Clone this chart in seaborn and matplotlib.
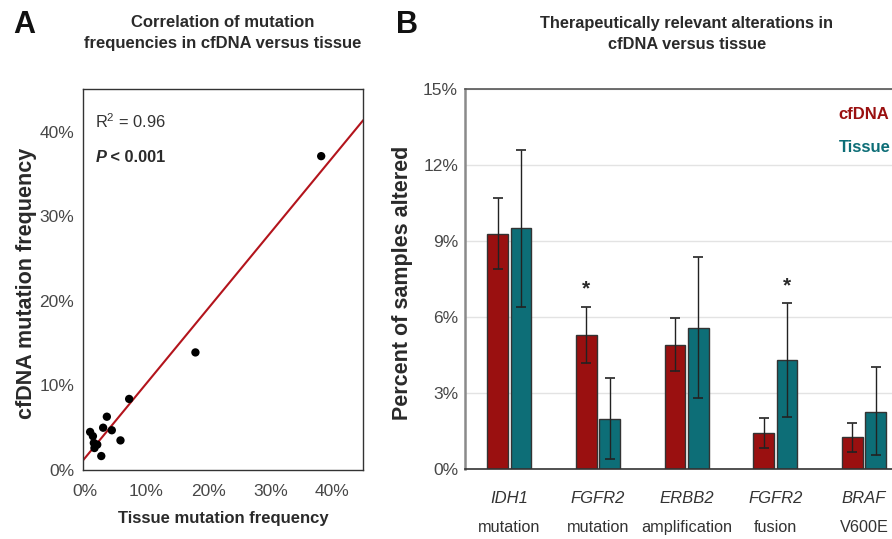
import matplotlib
matplotlib.use("Agg")
import matplotlib.pyplot as plt
import matplotlib.transforms as mtransforms
import seaborn as sns
import numpy as np
import pandas as pd

# ---------------- data ----------------
# Panel A: mutation frequencies (%)
tissue_freq = [38.2, 17.9, 7.2, 3.6, 3.0, 4.4, 5.8, 0.9, 1.35, 1.5, 2.05, 1.6, 2.7]
cfdna_freq = [37.1, 13.9, 8.4, 6.3, 5.0, 4.7, 3.5, 4.5, 4.0, 3.2, 3.0, 2.6, 1.65]
a_ticks = [0, 10, 20, 30, 40]

# Panel B: percent of samples altered
genes = ["IDH1", "FGFR2", "ERBB2", "FGFR2", "BRAF"]
alteration = ["mutation", "mutation", "amplification", "fusion", "V600E"]
cfdna_pct = [9.30, 5.30, 4.91, 1.43, 1.26]
cfdna_lo = [7.92, 4.21, 3.88, 0.84, 0.70]
cfdna_hi = [10.70, 6.42, 5.96, 2.04, 1.82]
tissue_pct = [9.51, 1.99, 5.58, 4.33, 2.27]
tissue_lo = [6.42, 0.39, 2.80, 2.05, 0.56]
tissue_hi = [12.60, 3.62, 8.38, 6.55, 4.05]
cfdna_sig = [False, True, False, False, False]
tissue_sig = [False, False, False, True, False]
b_ticks = [0, 3, 6, 9, 12, 15]

RED = "#9a1010"
TEAL = "#0d6e77"
LINE_RED = "#b3141c"
TXT = "#2a2a2a"
TICK = "#474747"

sns.set_style("white")
plt.rcParams["font.family"] = ["Liberation Sans", "DejaVu Sans"]
plt.rcParams["mathtext.fontset"] = "custom"
plt.rcParams["mathtext.rm"] = "Liberation Sans"

fig = plt.figure(figsize=(8.92, 5.39), dpi=100)

# ---------------- Panel A ----------------
axA = fig.add_axes([0.0927, 0.128, 0.3146, 0.7063])
axA.set_xlim(-0.3, 45)
axA.set_ylim(0, 45)
dfA = pd.DataFrame({"tissue": tissue_freq, "cfdna": cfdna_freq})
sns.regplot(data=dfA, x="tissue", y="cfdna", ax=axA, ci=None, truncate=False,
            scatter_kws=dict(s=36, color="black", edgecolor="none", alpha=1, zorder=3),
            line_kws=dict(color=LINE_RED, lw=1.5, zorder=2))
axA.set_xlim(-0.3, 45)
axA.set_ylim(0, 45)
axA.set_xticks(a_ticks)
axA.set_yticks(a_ticks)
axA.set_xticklabels([f"{t}%" for t in a_ticks])
axA.set_yticklabels([f"{t}%" for t in a_ticks])
axA.tick_params(axis="both", length=0, labelsize=12.5, labelcolor=TICK)
axA.tick_params(axis="x", pad=10)
axA.tick_params(axis="y", pad=6)
for s in axA.spines.values():
    s.set_color("#333333")
    s.set_linewidth(1.0)
    s.set_visible(True)
axA.set_xlabel("Tissue mutation frequency", fontsize=12, fontweight="bold", color=TXT)
axA.xaxis.set_label_coords(0.5, -0.108)
axA.set_ylabel("cfDNA mutation frequency", fontsize=15.5, fontweight="bold", color=TXT)
axA.yaxis.set_label_coords(-0.163, 0.49)
axA.text(0.045, 0.915, r"R$^2$ = 0.96", transform=axA.transAxes, fontsize=11.8,
         color="#333333", va="center")
tP = axA.text(0.045, 0.822, "P", transform=axA.transAxes, fontsize=11.8, fontweight="bold",
              fontstyle="italic", color=TXT, va="center")
axA.annotate(" < 0.001", xy=(1, 0.5), xycoords=tP, va="center", fontsize=11.8,
             fontweight="bold", color=TXT)

fig.text(223 / 892, 1 - 33 / 539, "Correlation of mutation\nfrequencies in cfDNA versus tissue",
         ha="center", va="center", fontsize=12, fontweight="bold", color=TXT, linespacing=1.55)

# ---------------- Panel B ----------------
axB = fig.add_axes([0.5213, 0.1293, 0.5964, 0.705])
dfB = pd.DataFrame({
    "cat": list(range(len(genes))) * 2,
    "source": ["cfDNA"] * len(genes) + ["Tissue"] * len(genes),
    "pct": cfdna_pct + tissue_pct,
})
sns.barplot(data=dfB, x="cat", y="pct", hue="source", hue_order=["cfDNA", "Tissue"],
            palette=[RED, TEAL], width=0.527, gap=0.12, errorbar=None, legend=False,
            edgecolor="#333333", linewidth=1.0, saturation=1, ax=axB)
axB.set_xlim(-0.5, 5.5)
axB.set_ylim(0, 15)
axB.set_yticks(b_ticks)
axB.set_yticklabels([f"{t}%" for t in b_ticks])
axB.yaxis.grid(True, color="#e3e3e3", lw=1.0)
axB.set_axisbelow(True)
axB.tick_params(axis="y", length=0, labelsize=12.5, labelcolor=TICK, pad=5)
axB.set_xticks([])
axB.set_xlabel("")
axB.set_ylabel("Percent of samples altered", fontsize=15.5, fontweight="bold", color=TXT)
axB.yaxis.set_label_coords(-0.098, 0.49)
axB.spines["left"].set_color("#8a8a8a")
axB.spines["left"].set_linewidth(1.8)
axB.spines["bottom"].set_color("#333333")
axB.spines["bottom"].set_linewidth(1.2)
axB.spines["top"].set_visible(True)
axB.spines["top"].set_color("#555555")
axB.spines["top"].set_linewidth(1.2)
axB.spines["right"].set_visible(False)

for cont, vals, lo, hi, sig in [(axB.containers[0], cfdna_pct, cfdna_lo, cfdna_hi, cfdna_sig),
                                (axB.containers[1], tissue_pct, tissue_lo, tissue_hi, tissue_sig)]:
    xs = [p.get_x() + p.get_width() / 2 for p in cont.patches]
    v = np.array(vals)
    yerr = [v - np.array(lo), np.array(hi) - v]
    axB.errorbar(xs, v, yerr=yerr, fmt="none", ecolor="#222222", elinewidth=1.0,
                 capsize=3.5, capthick=1.2, zorder=4)
    for x, h, s in zip(xs, hi, sig):
        if s:
            axB.annotate("*", xy=(x, h), xytext=(0, 6), textcoords="offset points",
                         ha="center", va="bottom", fontsize=15, fontweight="bold", color=TXT)

blend = mtransforms.blended_transform_factory(axB.transData, axB.transAxes)
for i, (g, a) in enumerate(zip(genes, alteration)):
    axB.text(i, -0.076, g, transform=blend, ha="center", va="center", fontsize=12,
             fontstyle="italic", color="#333333")
    axB.text(i, -0.152, a, transform=blend, ha="center", va="center", fontsize=11.7,
             color="#333333")

axB.text(0.702, 0.935, "cfDNA", transform=axB.transAxes, color=RED, fontsize=12,
         fontweight="bold", va="center", ha="left")
axB.text(0.702, 0.848, "Tissue", transform=axB.transAxes, color=TEAL, fontsize=12,
         fontweight="bold", va="center", ha="left")

fig.text(687 / 892, 1 - 34 / 539, "Therapeutically relevant alterations in\ncfDNA versus tissue",
         ha="center", va="center", fontsize=11.8, fontweight="bold", color=TXT, linespacing=1.55)

# panel letters
fig.text(13 / 892, 1 - 25 / 539, "A", fontsize=22, fontweight="bold", color="#111111", va="center")
fig.text(396 / 892, 1 - 25 / 539, "B", fontsize=22, fontweight="bold", color="#111111", va="center")

fig.savefig("out.png", dpi=100)
